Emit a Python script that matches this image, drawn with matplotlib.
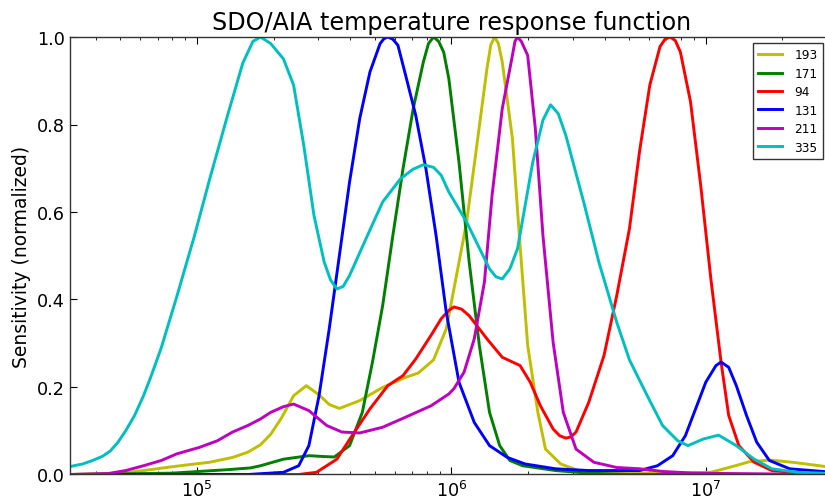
import matplotlib
matplotlib.use("Agg")
import matplotlib.pyplot as plt
import numpy as np

# =================================================
# DATA  (log10 T, normalized response)
# =================================================
logt_193 = [4.50, 4.70, 4.79, 4.92, 5.05, 5.14, 5.20, 5.25, 5.29, 5.33, 5.38, 5.43,
            5.48, 5.52, 5.56, 5.64, 5.73, 5.82, 5.87, 5.93, 5.98, 6.01, 6.06, 6.10,
            6.14, 6.155, 6.17, 6.185, 6.20, 6.24, 6.27, 6.30, 6.34, 6.37, 6.43, 6.50,
            6.70, 7.02, 7.11, 7.17, 7.25, 7.34, 7.50]
resp_193 = [0.000, 0.003, 0.009, 0.019, 0.028, 0.039, 0.051, 0.068, 0.092, 0.127, 0.180, 0.203,
            0.182, 0.160, 0.151, 0.169, 0.199, 0.222, 0.232, 0.262, 0.333, 0.424, 0.577, 0.752,
            0.928, 0.982, 1.000, 0.985, 0.943, 0.768, 0.524, 0.295, 0.142, 0.058, 0.024, 0.009,
            0.003, 0.005, 0.019, 0.029, 0.033, 0.028, 0.016]

logt_171 = [4.50, 4.90, 5.12, 5.21, 5.25, 5.34, 5.44, 5.50, 5.54, 5.60, 5.65, 5.69,
            5.73, 5.77, 5.81, 5.85, 5.89, 5.91, 5.93, 5.95, 5.97, 5.99, 6.03, 6.07,
            6.11, 6.15, 6.19, 6.23, 6.28, 6.41, 6.54, 6.70, 7.50]
resp_171 = [0.000, 0.003, 0.011, 0.015, 0.020, 0.035, 0.043, 0.041, 0.040, 0.066, 0.142, 0.257,
            0.386, 0.546, 0.699, 0.836, 0.943, 0.985, 1.000, 0.990, 0.965, 0.905, 0.714, 0.486,
            0.295, 0.142, 0.066, 0.032, 0.020, 0.009, 0.003, 0.000, 0.000]

logt_94 = [4.50, 5.40, 5.47, 5.55, 5.61, 5.68, 5.75, 5.81, 5.86, 5.92, 5.96, 5.99,
           6.01, 6.04, 6.07, 6.14, 6.20, 6.27, 6.31, 6.35, 6.40, 6.425, 6.45, 6.47,
           6.49, 6.54, 6.60, 6.65, 6.70, 6.74, 6.78, 6.82, 6.84, 6.86, 6.88, 6.90,
           6.94, 6.98, 7.02, 7.06, 7.09, 7.13, 7.19, 7.26, 7.38, 7.50]
resp_94 = [0.000, 0.000, 0.005, 0.035, 0.089, 0.150, 0.203, 0.226, 0.264, 0.318, 0.356, 0.375,
           0.383, 0.378, 0.363, 0.310, 0.268, 0.249, 0.211, 0.157, 0.104, 0.089, 0.083, 0.086,
           0.097, 0.165, 0.272, 0.409, 0.562, 0.740, 0.890, 0.978, 0.995, 1.000, 0.992, 0.966,
           0.852, 0.661, 0.447, 0.257, 0.135, 0.066, 0.028, 0.009, 0.003, 0.001]

logt_131 = [4.50, 5.20, 5.34, 5.40, 5.44, 5.48, 5.52, 5.56, 5.60, 5.64, 5.68, 5.72,
            5.735, 5.75, 5.77, 5.79, 5.82, 5.86, 5.90, 5.94, 5.98, 6.03, 6.09, 6.15,
            6.22, 6.29, 6.41, 6.54, 6.74, 6.81, 6.87, 6.92, 6.96, 7.00, 7.04, 7.06,
            7.09, 7.12, 7.16, 7.20, 7.25, 7.33, 7.50]
resp_131 = [0.000, 0.000, 0.005, 0.020, 0.066, 0.180, 0.333, 0.501, 0.669, 0.814, 0.920, 0.985,
            0.996, 1.000, 0.995, 0.981, 0.913, 0.821, 0.699, 0.546, 0.371, 0.211, 0.119, 0.066,
            0.039, 0.024, 0.013, 0.009, 0.009, 0.020, 0.043, 0.089, 0.150, 0.211, 0.249, 0.257,
            0.245, 0.203, 0.135, 0.074, 0.032, 0.013, 0.005]

logt_211 = [4.50, 4.65, 4.72, 4.79, 4.86, 4.92, 5.01, 5.08, 5.14, 5.20, 5.25, 5.29,
            5.34, 5.38, 5.44, 5.51, 5.57, 5.64, 5.73, 5.82, 5.92, 5.99, 6.01, 6.05,
            6.09, 6.13, 6.16, 6.20, 6.24, 6.25, 6.26, 6.275, 6.30, 6.33, 6.36, 6.40,
            6.44, 6.49, 6.56, 6.65, 6.74, 6.83, 6.95, 7.50]
resp_211 = [0.000, 0.002, 0.009, 0.020, 0.032, 0.047, 0.062, 0.077, 0.097, 0.112, 0.127, 0.142,
            0.155, 0.161, 0.146, 0.112, 0.097, 0.095, 0.108, 0.131, 0.157, 0.184, 0.196, 0.234,
            0.310, 0.440, 0.638, 0.836, 0.958, 0.990, 1.000, 0.990, 0.958, 0.791, 0.546, 0.302,
            0.142, 0.058, 0.028, 0.016, 0.013, 0.007, 0.003, 0.000]

logt_335 = [4.50, 4.55, 4.59, 4.63, 4.66, 4.69, 4.72, 4.755, 4.79, 4.82, 4.86, 4.92,
            4.99, 5.05, 5.12, 5.18, 5.22, 5.25, 5.29, 5.34, 5.38, 5.42, 5.46, 5.50,
            5.525, 5.55, 5.575, 5.60, 5.67, 5.73, 5.80, 5.85, 5.89, 5.93, 5.96, 5.99,
            6.06, 6.15, 6.175, 6.20, 6.23, 6.26, 6.32, 6.36, 6.39, 6.42, 6.45, 6.52,
            6.58, 6.65, 6.70, 6.77, 6.83, 6.89, 6.93, 6.99, 7.05, 7.12, 7.19, 7.26,
            7.36, 7.50]
resp_335 = [0.018, 0.024, 0.032, 0.042, 0.054, 0.074, 0.100, 0.135, 0.180, 0.225, 0.290, 0.405,
            0.545, 0.675, 0.820, 0.940, 0.990, 1.000, 0.985, 0.950, 0.890, 0.752, 0.592, 0.486,
            0.445, 0.424, 0.430, 0.455, 0.546, 0.623, 0.676, 0.698, 0.708, 0.702, 0.684, 0.646,
            0.577, 0.470, 0.452, 0.447, 0.470, 0.516, 0.714, 0.810, 0.845, 0.825, 0.775, 0.623,
            0.485, 0.348, 0.262, 0.180, 0.112, 0.077, 0.066, 0.081, 0.090, 0.066, 0.035, 0.013,
            0.005, 0.002]

channels = ["193", "171", "94", "131", "211", "335"]
colors = ["y", "g", "r", "b", "m", "c"]
logts = [logt_193, logt_171, logt_94, logt_131, logt_211, logt_335]
resps = [resp_193, resp_171, resp_94, resp_131, resp_211, resp_335]

# =================================================
# PLOT
# =================================================
fig = plt.figure(figsize=(8.25, 5.02), dpi=100)
ax = fig.add_axes([0.0845, 0.0528, 0.9252, 0.8715])

for name, col, lt, r in zip(channels, colors, logts, resps):
    ax.plot(10 ** np.array(lt), r, color=col, lw=2.1, label=name,
            solid_joinstyle="round")

ax.set_xscale("log")
ax.set_xlim(10 ** 4.5, 10 ** 7.5)
ax.set_ylim(0, 1)
ax.set_yticks([0.0, 0.2, 0.4, 0.6, 0.8, 1.0])
ax.set_yticklabels(["0.0", "0.2", "0.4", "0.6", "0.8", "1.0"])

ax.tick_params(which="both", direction="in", top=True, right=True, labelsize=12.7)
ax.tick_params(which="major", length=5, width=0.8)
ax.tick_params(which="minor", length=2.5, width=0.6)
ax.tick_params(axis="x", pad=4)

for spine in ax.spines.values():
    spine.set_linewidth(1.0)
    spine.set_color("#333333")

ax.set_ylabel("Sensitivity (normalized)", fontsize=13.5)
ax.set_title("SDO/AIA temperature response function", fontsize=17.2, pad=6)

leg = ax.legend(loc="upper right", bbox_to_anchor=(0.9976, 0.9124),
                bbox_transform=fig.transFigure, borderaxespad=0,
                fontsize=8.7, fancybox=False, framealpha=1,
                handlelength=2.0, handletextpad=1.0, labelspacing=0.45,
                borderpad=0.45)
leg.get_frame().set_edgecolor("#333333")
leg.get_frame().set_linewidth(1.0)

fig.savefig("out.png", dpi=100)
